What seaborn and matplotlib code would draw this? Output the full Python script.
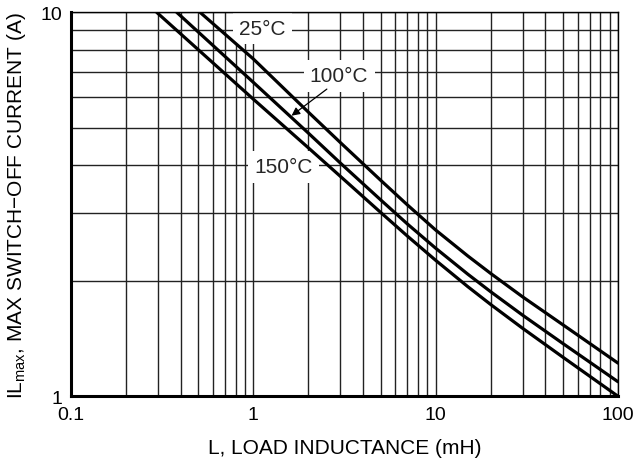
import numpy as np
import pandas as pd
import matplotlib
matplotlib.use("Agg")
import matplotlib.pyplot as plt
import seaborn as sns

# Values (L in mH, I in A)
L_25 = [0.51, 1, 2, 3, 5, 7, 10, 15, 20, 30, 50, 100]
I_25 = [10, 7.56, 5.50, 4.58, 3.65, 3.15, 2.71, 2.32, 2.09, 1.815, 1.534, 1.22]
L_100 = [0.38, 1, 2, 3, 5, 7, 10, 15, 20, 30, 50, 100]
I_100 = [10, 6.57, 4.85, 4.05, 3.245, 2.81, 2.43, 2.08, 1.873, 1.626, 1.371, 1.091]
L_150 = [0.295, 1, 2, 3, 5, 7, 10, 15, 20, 30, 50, 100]
I_150 = [10, 5.94, 4.44, 3.74, 3.01, 2.613, 2.26, 1.93, 1.735, 1.503, 1.263, 1.0]

temps = ["25°C", "100°C", "150°C"]
x_ticks = [0.1, 1, 10, 100]
x_ticklabels = ["0.1", "1", "10", "100"]
y_ticks = [1, 10]
y_ticklabels = ["1", "10"]

df = pd.concat([
    pd.DataFrame({"L": L_25, "I": I_25, "T": temps[0]}),
    pd.DataFrame({"L": L_100, "I": I_100, "T": temps[1]}),
    pd.DataFrame({"L": L_150, "I": I_150, "T": temps[2]}),
])

sns.set_theme(style="white")
plt.rcParams['font.family'] = ['Liberation Sans', 'DejaVu Sans']

fig = plt.figure(figsize=(6.33, 4.64), dpi=100)
ax = fig.add_axes([0.1122, 0.1438, 0.8641, 0.8275])

sns.lineplot(data=df, x="L", y="I", hue="T", palette=["black"] * 3,
             linewidth=2.3, legend=False, ax=ax, estimator=None, sort=True,
             zorder=3)

ax.set_xscale("log")
ax.set_yscale("log")
ax.set_xlim(0.1, 100)
ax.set_ylim(1, 10)

ax.grid(True, which="both", color="#222222", linewidth=1.0)
ax.set_axisbelow(True)
ax.set_xticks(x_ticks)
ax.set_xticklabels(x_ticklabels)
ax.set_yticks(y_ticks)
ax.set_yticklabels(y_ticklabels)
ax.xaxis.set_minor_formatter(matplotlib.ticker.NullFormatter())
ax.yaxis.set_minor_formatter(matplotlib.ticker.NullFormatter())
ax.tick_params(axis="both", which="both", length=0, labelsize=14, colors="black")
ax.tick_params(axis="x", pad=7)
ax.tick_params(axis="y", pad=6)

for side in ["top", "right"]:
    ax.spines[side].set_linewidth(1.0)
    ax.spines[side].set_color("black")
for side in ["left", "bottom"]:
    ax.spines[side].set_linewidth(2.2)
    ax.spines[side].set_color("black")

ax.set_xlabel("L, LOAD INDUCTANCE (mH)", fontsize=15, labelpad=11, color="black")
ax.set_ylabel(r"IL$_{\mathregular{max}}$, MAX SWITCH−OFF CURRENT (A)", fontsize=15,
              labelpad=9, color="black")

# white boxes hide the grid but sit below the curves
box = dict(boxstyle="square,pad=0.3", facecolor="white", edgecolor="none")
ax.text(1.116, 9.1, "25°C", ha="center", va="center", fontsize=15, bbox=box, zorder=2)
ax.text(2.95, 6.83, "100°C", ha="center", va="center", fontsize=15, bbox=box, zorder=2)
ax.text(1.47, 3.96, "150°C", ha="center", va="center", fontsize=15, bbox=box, zorder=2)
ax.annotate("", xy=(1.62, 5.38), xytext=(2.53, 6.31),
            arrowprops=dict(arrowstyle="-|>", color="black", lw=0.9,
                            mutation_scale=12, shrinkA=0, shrinkB=0), zorder=6)

fig.savefig("out.png", dpi=100, facecolor="white")
